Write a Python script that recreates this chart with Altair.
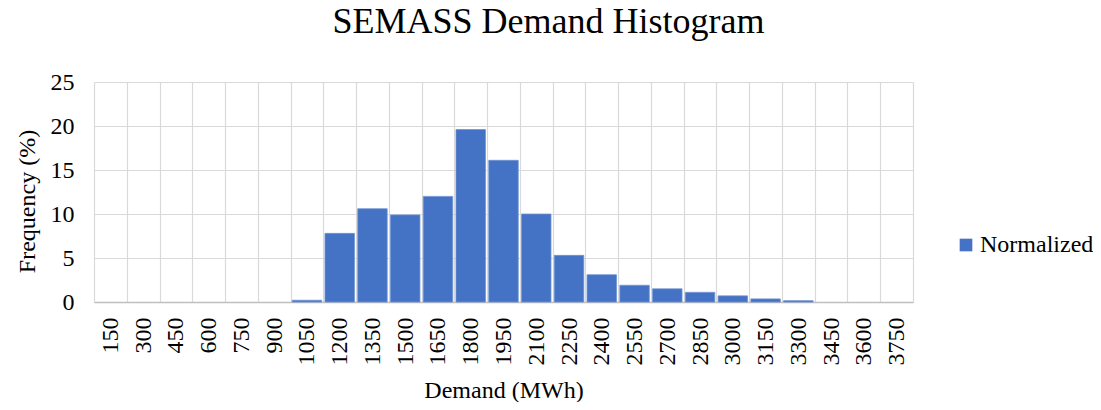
import altair as alt
import pandas as pd

demand = [150, 300, 450, 600, 750, 900, 1050, 1200, 1350, 1500, 1650, 1800, 1950,
          2100, 2250, 2400, 2550, 2700, 2850, 3000, 3150, 3300, 3450, 3600, 3750]
frequency = [0, 0, 0, 0, 0, 0, 0.2, 7.8, 10.6, 9.9, 12.0, 19.6, 16.1,
             10.0, 5.3, 3.1, 1.9, 1.5, 1.1, 0.7, 0.35, 0.15, 0, 0, 0]
series = ["Normalized"] * len(demand)

df = pd.DataFrame({"Demand": [str(d) for d in demand], "Frequency": frequency, "Series": series})

FONT = "Liberation Serif"

chart = alt.Chart(df).mark_bar(
    width=alt.RelativeBandSize(0.9), stroke="#7093d4", strokeWidth=0.8
).encode(
    x=alt.X("Demand:N", sort=[str(d) for d in demand],
            scale=alt.Scale(paddingInner=0, paddingOuter=0),
            axis=alt.Axis(title="Demand (MWh)", labelAngle=270, labelAlign="right",
                          labelBaseline="middle", labelPadding=15, ticks=False,
                          tickBand="extent", grid=True, gridColor="#d9d9d9", gridWidth=1.2,
                          domainColor="#bfbfbf", domainWidth=1.5,
                          titleY=88, titleBaseline="middle")),
    y=alt.Y("Frequency:Q", scale=alt.Scale(domain=[0, 25], nice=False),
            axis=alt.Axis(title="Frequency (%)", values=[0, 5, 10, 15, 20, 25], ticks=False,
                          domain=False, grid=True, gridColor="#d9d9d9", gridWidth=1.2,
                          labelPadding=20, titleAngle=270, titleBaseline="middle",
                          titleAlign="center", titleX=-67, titleY=119)),
    color=alt.Color("Series:N", scale=alt.Scale(range=["#4472C4"]),
                    legend=alt.Legend(title=None, orient="none", legendX=860, legendY=151,
                                      symbolType="square", symbolSize=160, padding=0,
                                      labelOffset=2,
                                      labelFontSize=24, labelFont=FONT, labelColor="#000000",
                                      labelLimit=300, symbolStrokeWidth=0)),
    strokeOpacity=alt.condition("datum.Frequency > 0", alt.value(1), alt.value(0)),
).properties(
    width=819, height=220,
    title=alt.TitleParams("SEMASS Demand Histogram", font=FONT, fontSize=36, fontWeight="normal",
                          color="#000000", anchor="middle", frame="group", dx=45,
                          baseline="alphabetic", offset=1),
    autosize=alt.AutoSizeParams(type="none"),
    padding={"left": 86, "top": 74, "right": 180, "bottom": 100},
).configure_axis(
    labelFont=FONT, labelFontSize=24, labelColor="#000000",
    titleFont=FONT, titleFontSize=24, titleColor="#000000", titleFontWeight="normal",
).configure_view(stroke=None)

chart.save("out.html", embed_options={"renderer": "svg", "actions": False})
